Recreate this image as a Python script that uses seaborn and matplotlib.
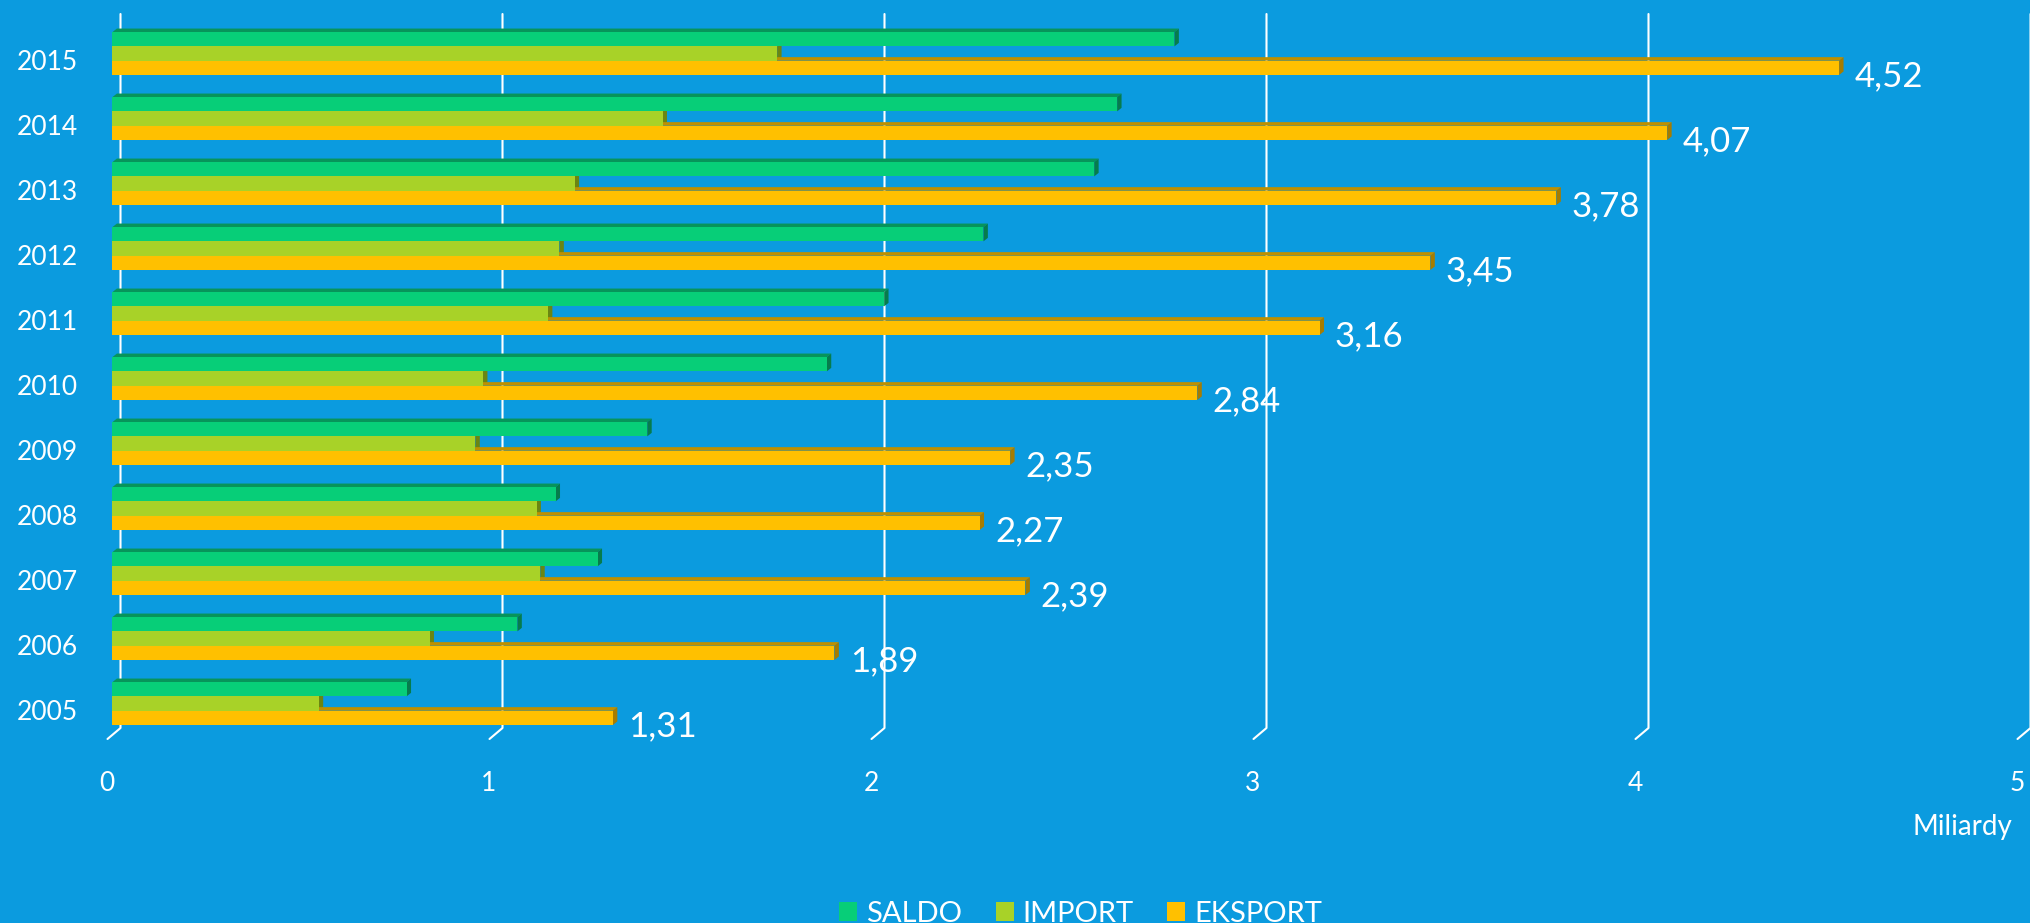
import pandas as pd
import matplotlib
matplotlib.use("Agg")
import matplotlib.pyplot as plt
import seaborn as sns
from matplotlib.patches import Polygon, Patch
from matplotlib.lines import Line2D
from matplotlib.transforms import ScaledTranslation

# dane (mld)
lata = ['2015', '2014', '2013', '2012', '2011', '2010', '2009', '2008', '2007', '2006', '2005']
saldo = [2.78, 2.63, 2.57, 2.28, 2.02, 1.87, 1.40, 1.16, 1.27, 1.06, 0.77]
imp = [1.74, 1.44, 1.21, 1.17, 1.14, 0.97, 0.95, 1.11, 1.12, 0.83, 0.54]
eksport = [4.52, 4.07, 3.78, 3.45, 3.16, 2.84, 2.35, 2.27, 2.39, 1.89, 1.31]
serie = ['SALDO', 'IMPORT', 'EKSPORT']
x_ticks = [0, 1, 2, 3, 4, 5]

BG = '#0B9BDF'
kolory = {'SALDO': '#07CE78', 'IMPORT': '#A8D228', 'EKSPORT': '#FFC000'}
gora = {'SALDO': '#07945A', 'IMPORT': '#7B9A18', 'EKSPORT': '#BE9000'}
bok = {'SALDO': '#067C4C', 'IMPORT': '#6A8612', 'EKSPORT': '#A67C00'}

df = pd.DataFrame({'rok': lata, 'SALDO': saldo, 'IMPORT': imp, 'EKSPORT': eksport})
df_long = df.melt(id_vars='rok', value_vars=serie, var_name='seria', value_name='wartosc')

sns.set_style("white")
plt.rcParams['font.family'] = ['Lato', 'DejaVu Sans']

W, H = 2031, 923
fig = plt.figure(figsize=(W / 100, H / 100), dpi=100, facecolor=BG)

# osie w pikselach
x0_px, unit_px = 112.5, 382.0
top_px, bot_px = 14, 728
ax = fig.add_axes([x0_px / W, (H - bot_px) / H, 5 * unit_px / W, (bot_px - top_px) / H])
ax.set_facecolor(BG)

sns.barplot(data=df_long, y='rok', x='wartosc', hue='seria', order=lata, hue_order=serie,
            palette=kolory, orient='h', width=0.66, gap=0, legend=False,
            linewidth=0, saturation=1, ax=ax, zorder=3)

c0, step = 53.5, 65.0
ax.set_ylim((bot_px - c0) / step, (top_px - c0) / step)
ax.set_xlim(0, 5)
ax.set_xlabel('')
ax.set_ylabel('')
for s in ax.spines.values():
    s.set_visible(False)
ax.set_xticks(x_ticks)
ax.set_xticklabels([str(t) for t in x_ticks])
ax.tick_params(axis='x', length=0, pad=31, labelsize=19, labelcolor='white')
ax.tick_params(axis='y', length=0, pad=25, labelsize=19, labelcolor='white')
for lab in ax.get_yticklabels():
    lab.set_transform(lab.get_transform() + ScaledTranslation(0, -5 / 72, fig.dpi_scale_trans))
for lab in ax.get_xticklabels():
    lab.set_transform(lab.get_transform() + ScaledTranslation(-4 / 72, 0, fig.dpi_scale_trans))

# efekt 3D
dx, dy = 4.4, 3.5
for cont, s in zip(ax.containers, serie):
    for p in cont:
        (xa, ya), (xb, yb) = ax.transData.transform(
            [(p.get_x(), p.get_y() + p.get_height()), (p.get_x() + p.get_width(), p.get_y())])
        y_lo, y_hi = min(ya, yb), max(ya, yb)
        fig.add_artist(Polygon([(xa, y_hi), (xb, y_hi), (xb + dx, y_hi + dy), (xa + dx, y_hi + dy)],
                               closed=True, transform=None, facecolor=gora[s], edgecolor='none', zorder=0.5))
        fig.add_artist(Polygon([(xb, y_lo), (xb, y_hi), (xb + dx, y_hi + dy), (xb + dx, y_lo + dy)],
                               closed=True, transform=None, facecolor=bok[s], edgecolor='none', zorder=0.5))

# linie siatki (tylna sciana) z ukosna stopka
for t in x_ticks:
    xd, _ = ax.transData.transform((t, 0))
    gx = xd + 8
    fig.add_artist(Line2D([gx, gx, gx - 13], [H - top_px, H - bot_px, H - bot_px - 11],
                          transform=None, color='white', lw=1.5, zorder=0.3))

ax.set_zorder(1)
ax.patch.set_alpha(0)

# etykiety wartosci eksportu
for p, v in zip(ax.containers[2], eksport):
    ax.annotate(f'{v:.2f}'.replace('.', ','),
                xy=(p.get_x() + p.get_width(), p.get_y() + p.get_height() / 2),
                xytext=(11, -6), textcoords='offset points',
                ha='left', va='center', fontsize=25, color='white')

fig.text(2012 / W, 1 - 827 / H, 'Miliardy', ha='right', va='center', fontsize=20, color='white')

uchwyty = [Patch(facecolor=kolory[s], edgecolor='none', label=s) for s in serie]
fig.legend(handles=uchwyty, loc='lower center', bbox_to_anchor=(0.532, -0.004), ncol=3,
           frameon=False, fontsize=21, labelcolor='white', handlelength=0.62, handleheight=0.62,
           handletextpad=0.3, columnspacing=1.15, borderaxespad=0, borderpad=0)

fig.savefig('out.png', dpi=100, facecolor=BG)
